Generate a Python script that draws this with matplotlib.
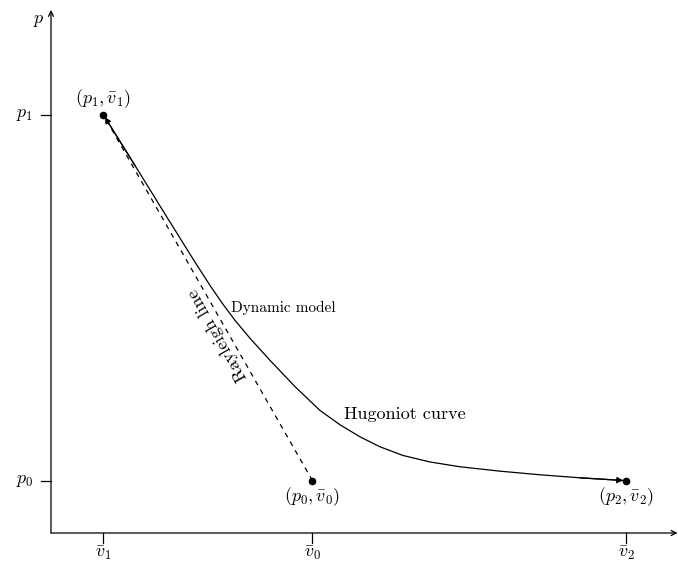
import matplotlib
matplotlib.use("Agg")
import matplotlib.pyplot as plt

plt.rcParams['mathtext.fontset'] = 'cm'
plt.rcParams['font.family'] = ['cmr10', 'DejaVu Serif']
plt.rcParams['axes.unicode_minus'] = False

# states (specific volume, pressure)
V1, V0, V2 = 1.0, 5.0, 11.0
P0, P1 = 1.0, 8.0

# Hugoniot curve
hug_v = [1.0, 1.606, 2.180, 2.753, 3.040, 3.289, 3.518, 3.805, 4.187, 4.665,
         5.143, 5.526, 5.908, 6.291, 6.730, 7.247, 7.820, 8.585, 9.350, 10.115, 11.0]
hug_p = [8.0, 7.027, 6.098, 5.180, 4.734, 4.373, 4.067, 3.723, 3.302, 2.799,
         2.344, 2.069, 1.839, 1.648, 1.482, 1.358, 1.266, 1.182, 1.113, 1.055, 1.0]

# Rayleigh line
ray_v = [V0, V1]
ray_p = [P0, P1]

xtick_pos = [V1, V0, V2]
xtick_lab = [r'$\bar{v}_1$', r'$\bar{v}_0$', r'$\bar{v}_2$']
ytick_pos = [P1, P0]
ytick_lab = [r'$p_1$', r'$p_0$']

fig = plt.figure(figsize=(6.78, 5.64), dpi=100)
ax = fig.add_axes([0, 0, 1, 1])
ax.set_xlim(-0.975, 11.99)
ax.set_ylim(-0.593, 10.19)
ax.axis('off')

# axes with arrow heads
arr = dict(arrowstyle='->', lw=0.9, color='black', mutation_scale=9, shrinkA=0, shrinkB=0)
ax.annotate('', xy=(0, 10.0), xytext=(0, 0), arrowprops=arr)
ax.annotate('', xy=(11.98, 0), xytext=(0, 0), arrowprops=arr)
ax.text(-0.24, 9.78, r'$p$', fontsize=13, ha='center', va='center')
ax.text(12.12, -0.23, r'$\bar{v}$', fontsize=13, ha='center', va='center')

tl = 0.19
for x, lab in zip(xtick_pos, xtick_lab):
    ax.plot([x, x], [0, -tl], color='black', lw=0.9)
    ax.text(x, -0.39, lab, fontsize=13, ha='center', va='center')
for y, lab in zip(ytick_pos, ytick_lab):
    ax.plot([0, -tl], [y, y], color='black', lw=0.9)
    ax.text(-0.5, y, lab, fontsize=13, ha='center', va='center')

# curves
ax.plot(hug_v, hug_p, color='black', lw=0.9, solid_joinstyle='round')
ax.plot(ray_v, ray_p, color='black', lw=0.9, linestyle=(0, (4, 4)))

head = dict(arrowstyle='-|>', lw=0.9, color='black', mutation_scale=9, shrinkA=0, shrinkB=2.2)
ax.annotate('', xy=(hug_v[0], hug_p[0]), xytext=(hug_v[1], hug_p[1]), arrowprops=head)
ax.annotate('', xy=(hug_v[-1], hug_p[-1]), xytext=(hug_v[-2], hug_p[-2]), arrowprops=head)

ax.plot([V1, V0, V2], [P1, P0, P0], 'o', color='black', markersize=4.5, zorder=5)

ax.text(V1, P1 + 0.3, r'$(p_1,\bar{v}_1)$', fontsize=13, ha='center', va='center')
ax.text(V0, P0 - 0.31, r'$(p_0,\bar{v}_0)$', fontsize=13, ha='center', va='center')
ax.text(V2, P0 - 0.31, r'$(p_2,\bar{v}_2)$', fontsize=13, ha='center', va='center')

ax.text(3.18, 3.79, 'Rayleigh line', fontsize=13, rotation=119.7,
        ha='center', va='center', rotation_mode='anchor')
ax.text(3.44, 4.30, 'Dynamic model', fontsize=11, ha='left', va='center')
ax.text(5.6, 2.26, 'Hugoniot curve', fontsize=13, ha='left', va='center')

fig.savefig('out.png', dpi=100)
